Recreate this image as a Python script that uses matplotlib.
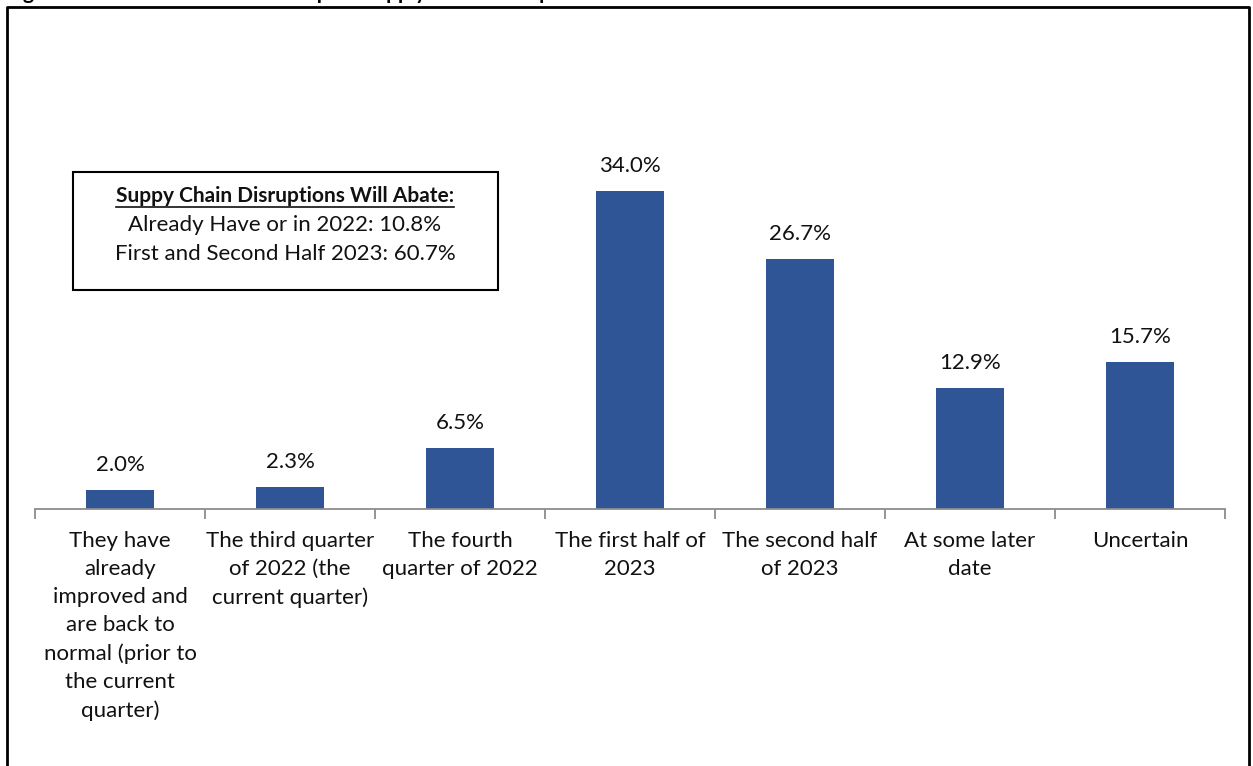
import matplotlib.pyplot as plt
from matplotlib.lines import Line2D
from matplotlib.patches import Rectangle
import matplotlib.transforms as mtransforms

plt.rcParams['font.family'] = ['Lato', 'DejaVu Sans']

categories = [
    "They have\nalready\nimproved and\nare back to\nnormal (prior to\nthe current\nquarter)",
    "The third quarter\nof 2022 (the\ncurrent quarter)",
    "The fourth\nquarter of 2022",
    "The first half of\n2023",
    "The second half\nof 2023",
    "At some later\ndate",
    "Uncertain",
]
values = [2.0, 2.3, 6.5, 34.0, 26.7, 12.9, 15.7]
value_labels = ["2.0%", "2.3%", "6.5%", "34.0%", "26.7%", "12.9%", "15.7%"]

title = "Figure 9: When Do Businesses Expect Supply Chain Disruptions to Abate?"
box_heading = "Suppy Chain Disruptions Will Abate:"
box_lines = ["Already Have or in 2022: 10.8%", "First and Second Half 2023: 60.7%"]

W, H = 1253, 766
FS = 16
fig = plt.figure(figsize=(W / 100, H / 100), dpi=100)

# plot area: x axis from px 35 to 1225, baseline at px 509
ax = fig.add_axes([35 / W, (H - 509) / H, 1190 / W, 374 / H])
x = list(range(len(values)))
bars = ax.bar(x, values, width=0.4, color="#2F5597", zorder=2)
ax.set_xlim(-0.5, len(values) - 0.5)
ax.set_ylim(0, 40)

for s in ["top", "right", "left"]:
    ax.spines[s].set_visible(False)
ax.spines["bottom"].set_color("#8C8C8C")
ax.spines["bottom"].set_linewidth(1.3)
ax.set_yticks([])
ax.set_xticks([i - 0.5 for i in range(len(values) + 1)])
ax.set_xticklabels([])
ax.tick_params(axis="x", direction="out", length=7, width=1.3, color="#8C8C8C")

for rect, lab in zip(bars, value_labels):
    ax.annotate(lab, (rect.get_x() + rect.get_width() / 2, rect.get_height()),
                xytext=(0, 11), textcoords="offset points",
                ha="center", va="bottom", fontsize=FS, color="#111111")

offset = mtransforms.ScaledTranslation(0, -22 / 100, fig.dpi_scale_trans)
for i, cat in enumerate(categories):
    ax.text(i, 0, cat, transform=ax.transData + offset, ha="center", va="top",
            fontsize=FS, linespacing=1.5, color="#111111")

# summary box
box = Rectangle((73 / W, 1 - 290 / H), (498 - 73) / W, (290 - 172) / H,
                transform=fig.transFigure, fill=False, edgecolor="black", linewidth=1.5)
fig.add_artist(box)
head = fig.text(285 / W, 1 - 196 / H, box_heading, ha="center", va="center",
                fontsize=15, fontweight="bold", color="#111111")
fig.text(285 / W, 1 - 225 / H, box_lines[0], ha="center", va="center",
         fontsize=FS, color="#111111")
fig.text(285 / W, 1 - 254 / H, box_lines[1], ha="center", va="center",
         fontsize=FS, color="#111111")

# underline the heading across its rendered width
fig.canvas.draw()
bb = head.get_window_extent().transformed(fig.transFigure.inverted())
fig.add_artist(Line2D([bb.x0, bb.x1], [1 - 207 / H, 1 - 207 / H],
                      transform=fig.transFigure, color="#111111", linewidth=1.2))

# outer frame (top, left, right edges)
fig.add_artist(Line2D([7 / W, 7 / W, 1249 / W, 1249 / W],
                      [0, 1 - 7 / H, 1 - 7 / H, 0],
                      transform=fig.transFigure, color="black", linewidth=2))

# title sits above the visible area
fig.text(6 / W, 1 + 1 / H, title, ha="left", va="baseline",
         fontsize=15, fontweight="bold", color="black")

fig.savefig("out.png", dpi=100)
